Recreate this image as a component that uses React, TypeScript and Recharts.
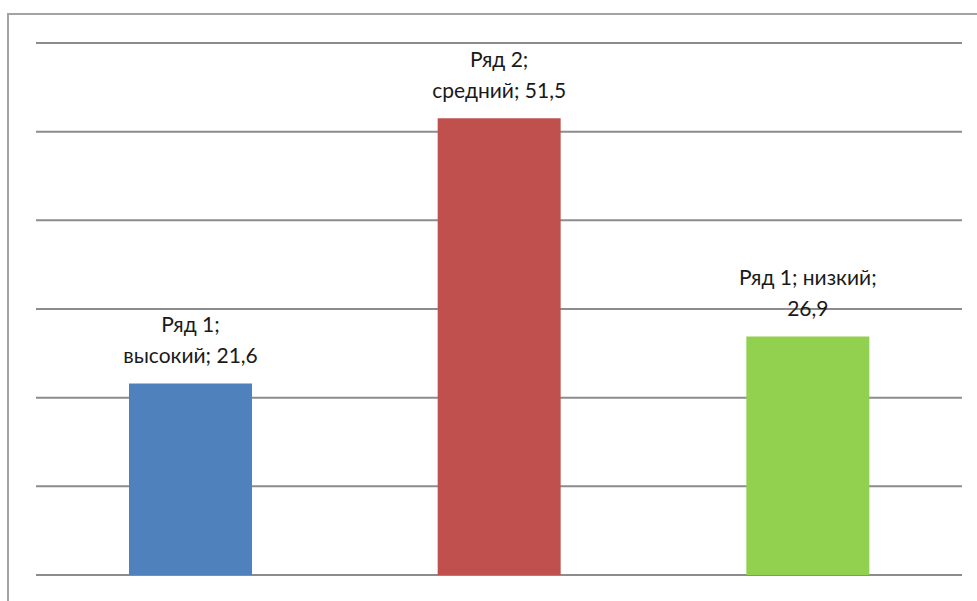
import { BarChart, Bar, XAxis, YAxis, CartesianGrid, Cell, LabelList } from "recharts"

const categories = ["высокий", "средний", "низкий"]
const seriesNames = ["Ряд 1", "Ряд 2", "Ряд 1"]
const values = [21.6, 51.5, 26.9]
const barColors = ["#4F81BD", "#C0504D", "#92D050"]
// Excel wraps the labels differently per bar
const labelLines = [
  ["Ряд 1;", "высокий; 21,6"],
  ["Ряд 2;", "средний; 51,5"],
  ["Ряд 1; низкий;", "26,9"],
]
const yTicks = [0, 10, 20, 30, 40, 50, 60]

const data = categories.map((c, i) => ({ category: c, series: seriesNames[i], value: values[i] }))

const BarLabel = (props: any) => {
  const { x, y, width, index } = props
  const cx = Number(x) + Number(width) / 2
  const top = Number(y)
  const lines = labelLines[index] || []
  return (
    <g>
      <text x={cx} y={top - 51} textAnchor="middle" fontSize={21} fill="#1a1a1a" fontFamily="Lato, 'Open Sans', sans-serif">
        {lines[0]}
      </text>
      <text x={cx} y={top - 20} textAnchor="middle" fontSize={21} fill="#1a1a1a" fontFamily="Lato, 'Open Sans', sans-serif">
        {lines[1]}
      </text>
    </g>
  )
}

export default function App() {
  return (
    <div style={{ position: "absolute", left: 0, top: 0, width: 977, height: 601, background: "#fff" }}>
      <div
        style={{
          position: "absolute",
          left: 7,
          top: 13,
          width: 970,
          height: 588,
          borderTop: "2px solid #a3a3a3",
          borderLeft: "2px solid #a3a3a3",
        }}
      />
      <div style={{ position: "absolute", left: 0, top: 0 }}>
        <BarChart width={977} height={601} data={data} margin={{ top: 43, right: 15, left: 36, bottom: 26 }}>
          <CartesianGrid vertical={false} stroke="#8c8c8c" strokeWidth={2} />
          <XAxis dataKey="category" hide />
          <YAxis hide domain={[0, 60]} ticks={yTicks} />
          <Bar dataKey="value" barSize={123} isAnimationActive={false}>
            {data.map((d, i) => (
              <Cell key={d.category} fill={barColors[i]} />
            ))}
            <LabelList dataKey="value" content={<BarLabel />} />
          </Bar>
        </BarChart>
      </div>
    </div>
  )
}
